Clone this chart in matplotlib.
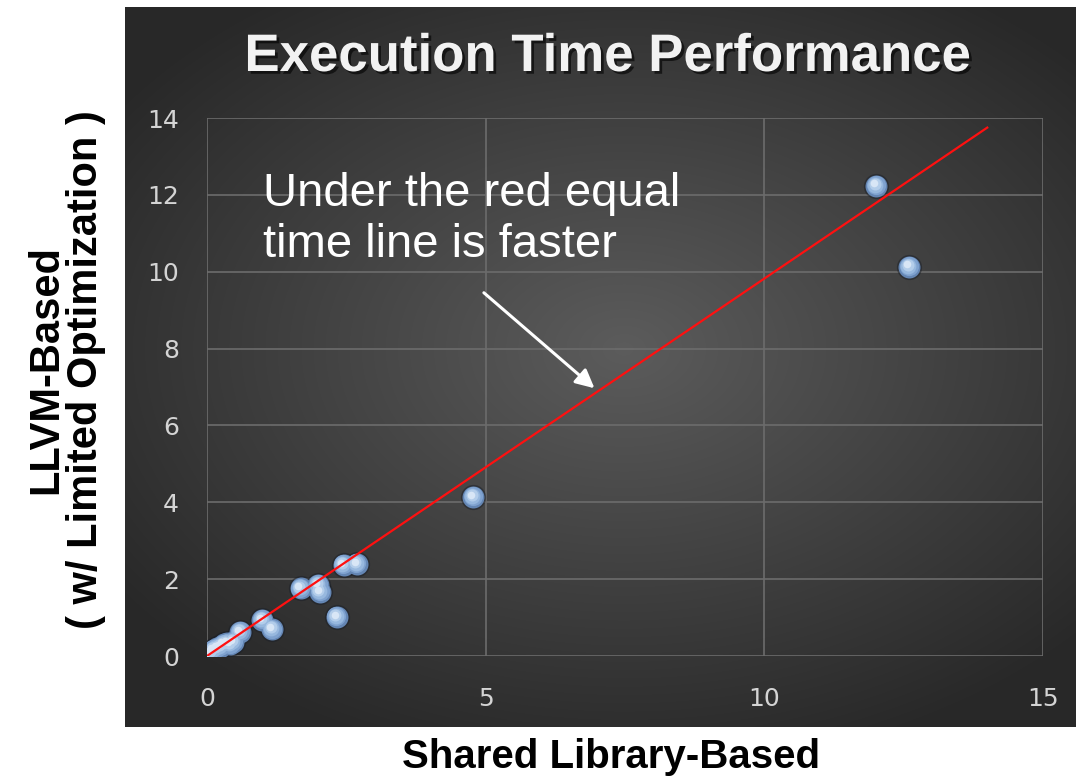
import numpy as np
import matplotlib
matplotlib.use("Agg")
import matplotlib.pyplot as plt
import matplotlib.patheffects as pe
import matplotlib.transforms as mtransforms


# values
shared_lib = [0.02, 0.08, 0.12, 0.18, 0.24, 0.30, 0.36, 0.42, 0.47, 0.60,
              0.99, 1.17, 1.68, 2.00, 2.03, 2.33, 2.45, 2.69, 4.78, 12.01, 12.60]
llvm_based = [0.03, 0.08, 0.16, 0.20, 0.24, 0.30, 0.33, 0.30, 0.37, 0.63,
              0.94, 0.70, 1.76, 1.85, 1.67, 1.02, 2.37, 2.40, 4.14, 12.24, 10.13]

equal_x = [0, 14.0]
equal_y = [0, 13.75]

x_ticks = [0, 5, 10, 15]
y_ticks = [0, 2, 4, 6, 8, 10, 12, 14]

W, H = 1076, 783

plt.rcParams["font.family"] = ["Liberation Sans", "DejaVu Sans"]

fig = plt.figure(figsize=(W / 100, H / 100), dpi=100, facecolor="white")

# dark gradient panel behind the chart
bg = fig.add_axes([125 / W, (H - 727) / H, (W - 125) / W, (727 - 7) / H])
bg.set_axis_off()
gx, gy = np.meshgrid(np.linspace(-1, 1, 400), np.linspace(-1, 1, 300))
r = np.sqrt(((gx - 0.05) / 1.1) ** 2 + ((gy + 0.05) / 1.0) ** 2)
shade = np.clip(0.36 - 0.17 * r, 0.16, 0.36)
bg.imshow(np.dstack([shade, shade, shade]), aspect="auto",
          extent=[0, 1, 0, 1], interpolation="bilinear")

ax = fig.add_axes([207 / W, (H - 656) / H, (1043 - 207) / W, (656 - 118) / H])
ax.patch.set_alpha(0)
ax.set_xlim(0, 15)
ax.set_ylim(0, 14)
ax.set_xticks(x_ticks)
ax.set_yticks(y_ticks)
ax.grid(True, color="#6c6c6c", linewidth=1.2)
ax.set_axisbelow(True)
for s in ax.spines.values():
    s.set_visible(False)
ax.tick_params(length=0, labelsize=18, labelcolor="#d4d4d4")
ax.tick_params(axis="x", pad=22)
ax.tick_params(axis="y", pad=20)
for lbl in ax.get_xticklabels() + ax.get_yticklabels():
    lbl.set_family("DejaVu Sans")

# sphere-like markers: dark rim, then lighter layers shifted up-left
ax.scatter(shared_lib, llvm_based, s=330, color="#1a1f28", alpha=0.5,
           linewidths=0, zorder=3)
layers = [(250, "#6486b4", 0.0), (190, "#7fa2cf", 0.4), (130, "#97b8de", 0.8),
          (75, "#b3cdea", 1.2), (30, "#d8e6f6", 1.6)]
for size, col, shift in layers:
    tr = ax.transData + mtransforms.ScaledTranslation(-shift / 72, shift / 72,
                                                      fig.dpi_scale_trans)
    ax.scatter(shared_lib, llvm_based, s=size, color=col, linewidths=0,
               transform=tr, zorder=4)

ax.plot(equal_x, equal_y, color="#ff1010", linewidth=1.6, zorder=6)

ax.text(1.0, 12.6, "Under the red equal\ntime line is faster",
        color="white", fontsize=34, va="top", ha="left", linespacing=1.2,
        zorder=7)
ax.annotate("", xy=(6.99, 6.92), xytext=(4.93, 9.5),
            arrowprops=dict(arrowstyle="-|>", color="white", lw=2.2,
                            mutation_scale=28), zorder=7)

fig.text(607 / W, 1 - 57 / H, "Execution Time Performance", color="#f2f2f2",
         fontsize=38, fontweight="bold", ha="center", va="center",
         path_effects=[pe.withSimplePatchShadow(offset=(2, -2),
                                                shadow_rgbFace="black",
                                                alpha=0.6)])

fig.text(611 / W, 1 - 757 / H, "Shared Library-Based", color="black",
         fontsize=29, fontweight="bold", ha="center", va="center")
fig.text(66 / W, 1 - 370 / H, "LLVM-Based\n( w/ Limited Optimization )",
         color="black", fontsize=30, fontweight="bold", ha="center",
         va="center", rotation=90, linespacing=1.0)

fig.savefig("out.png", dpi=100, facecolor="white")
